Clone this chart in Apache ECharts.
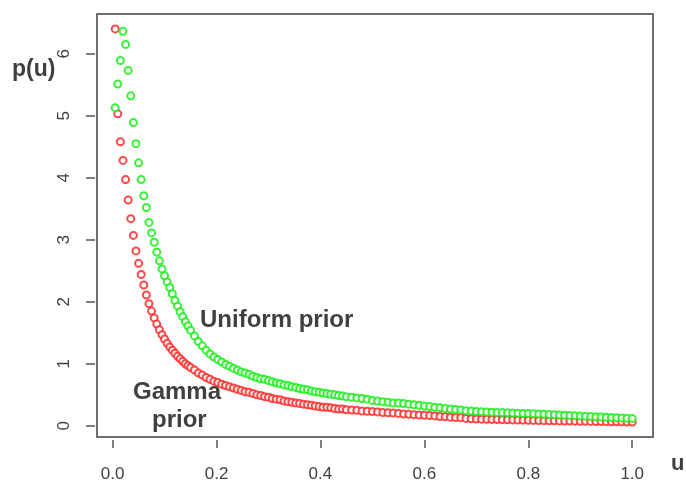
<!DOCTYPE html>
<html lang="en">
<head>
	<meta charset="UTF-8">
	<title>p(u)</title>
	<script type="text/javascript" src="https://cdn.jsdelivr.net/npm/echarts@6/dist/echarts.min.js"></script>
	<style>
		html, body { margin: 0; padding: 0; background: #fff; }
		#main { width: 686px; height: 487px; }
	</style>
</head>
<body>
	<div id="main"></div>
	<script type="text/javascript">
		// u grid (shared by both curves)
		var uValues = [
			0.005, 0.01, 0.015, 0.02, 0.025, 0.03, 0.035, 0.04, 0.045, 0.05,
			0.055, 0.06, 0.065, 0.07, 0.075, 0.08, 0.085, 0.09, 0.095, 0.1,
			0.105, 0.11, 0.115, 0.12, 0.125, 0.13, 0.135, 0.14, 0.145, 0.15,
			0.1575, 0.165, 0.1725, 0.18, 0.1875, 0.195, 0.2025, 0.21, 0.2175, 0.225,
			0.2325, 0.24, 0.2475, 0.255, 0.2625, 0.27, 0.2775, 0.285, 0.2925, 0.3,
			0.3075, 0.315, 0.3225, 0.33, 0.3375, 0.345, 0.3525, 0.36, 0.3675, 0.375,
			0.3825, 0.39, 0.3975, 0.405, 0.4125, 0.42, 0.4275, 0.435, 0.4425, 0.45,
			0.46, 0.47, 0.48, 0.49, 0.5, 0.51, 0.52, 0.53, 0.54, 0.55,
			0.56, 0.57, 0.58, 0.59, 0.6, 0.61, 0.62, 0.63, 0.64, 0.65,
			0.66, 0.67, 0.68, 0.69, 0.7, 0.71, 0.72, 0.73, 0.74, 0.75,
			0.76, 0.77, 0.78, 0.79, 0.8, 0.81, 0.82, 0.83, 0.84, 0.85,
			0.86, 0.87, 0.88, 0.89, 0.9, 0.91, 0.92, 0.93, 0.94, 0.95,
			0.96, 0.97, 0.98, 0.99, 1.0
		];

		// Gamma prior (red)
		var gammaPrior = [
			6.40, 5.03, 4.58, 4.28, 3.97, 3.64, 3.34, 3.07, 2.82, 2.62,
			2.44, 2.27, 2.11, 1.97, 1.85, 1.74, 1.64, 1.55, 1.47, 1.40,
			1.33, 1.27, 1.22, 1.17, 1.12, 1.08, 1.04, 1.00, 0.97, 0.94,
			0.90, 0.85, 0.82, 0.78, 0.75, 0.72, 0.70, 0.67, 0.65, 0.63,
			0.61, 0.59, 0.57, 0.55, 0.54, 0.52, 0.50, 0.49, 0.47, 0.46,
			0.44, 0.43, 0.42, 0.40, 0.39, 0.38, 0.37, 0.36, 0.35, 0.34,
			0.33, 0.32, 0.31, 0.30, 0.30, 0.29, 0.28, 0.27, 0.27, 0.26,
			0.255, 0.25, 0.24, 0.235, 0.23, 0.225, 0.215, 0.21, 0.205, 0.2,
			0.19, 0.185, 0.18, 0.175, 0.17, 0.165, 0.16, 0.15, 0.145, 0.14,
			0.135, 0.13, 0.12, 0.115, 0.11, 0.108, 0.106, 0.104, 0.102, 0.1,
			0.098, 0.096, 0.094, 0.092, 0.09, 0.088, 0.086, 0.084, 0.082, 0.08,
			0.079, 0.077, 0.076, 0.075, 0.073, 0.072, 0.071, 0.069, 0.068, 0.067,
			0.065, 0.064, 0.063, 0.061, 0.06
		];

		// Uniform prior (green)
		var uniformPrior = [
			5.13, 5.51, 5.89, 6.36, 6.15, 5.73, 5.32, 4.89, 4.55, 4.24,
			3.97, 3.71, 3.52, 3.28, 3.11, 2.96, 2.80, 2.66, 2.53, 2.42,
			2.32, 2.23, 2.13, 2.02, 1.93, 1.84, 1.76, 1.68, 1.61, 1.54,
			1.45, 1.36, 1.29, 1.22, 1.16, 1.11, 1.07, 1.03, 0.99, 0.96,
			0.93, 0.90, 0.87, 0.85, 0.83, 0.80, 0.78, 0.76, 0.75, 0.73,
			0.71, 0.69, 0.68, 0.66, 0.65, 0.63, 0.62, 0.60, 0.59, 0.58,
			0.56, 0.55, 0.54, 0.53, 0.52, 0.51, 0.50, 0.49, 0.48, 0.47,
			0.46, 0.45, 0.44, 0.43, 0.41, 0.4, 0.39, 0.38, 0.37, 0.37,
			0.36, 0.35, 0.34, 0.33, 0.32, 0.31, 0.3, 0.29, 0.28, 0.27,
			0.265, 0.255, 0.245, 0.24, 0.23, 0.227, 0.223, 0.22, 0.217, 0.213,
			0.21, 0.207, 0.203, 0.2, 0.197, 0.193, 0.19, 0.187, 0.183, 0.18,
			0.176, 0.172, 0.168, 0.164, 0.16, 0.156, 0.152, 0.148, 0.144, 0.14,
			0.136, 0.132, 0.128, 0.124, 0.12
		];

		var xTicks = [0, 0.2, 0.4, 0.6, 0.8, 1.0];
		var yTicks = [0, 1, 2, 3, 4, 5, 6];

		function pairs(ys) {
			var arr = [];
			for (var i = 0; i < uValues.length; i++) {
				arr.push([uValues[i], ys[i]]);
			}
			return arr;
		}

		var myChart = echarts.init(document.getElementById('main'));
		var textColor = '#404040';
		var option = {
			animation: false,
			backgroundColor: '#fff',
			textStyle: { fontFamily: 'Liberation Sans, Arial, sans-serif' },
			grid: {
				left: 97, top: 14, width: 556, height: 423,
				show: true, borderColor: '#6e6e6e', borderWidth: 2
			},
			xAxis: {
				type: 'value', min: -0.03, max: 1.04, offset: 3,
				splitLine: { show: false },
				axisLine: { show: false, onZero: false },
				axisTick: { show: true, length: 8, customValues: xTicks, lineStyle: { color: '#555', width: 1.5 } },
				axisLabel: {
					customValues: xTicks, margin: 26, fontSize: 17, color: textColor,
					formatter: function (v) { return v.toFixed(1); }
				}
			},
			yAxis: {
				type: 'value', min: -0.18, max: 6.64, offset: 2,
				splitLine: { show: false },
				axisLine: { show: false, onZero: false },
				axisTick: { show: true, length: 9, customValues: yTicks, lineStyle: { color: '#555', width: 1.5 } },
				axisLabel: {
					customValues: yTicks, margin: 22, fontSize: 17, color: textColor, rotate: 90
				}
			},
			graphic: [
				{ type: 'text', left: 12, top: 58, style: { text: 'p(u)', fontSize: 23, fontWeight: 'bold', fill: '#404040', fontFamily: 'Liberation Sans' } },
				{ type: 'text', left: 671, top: 453, style: { text: 'u', fontSize: 22, fontWeight: 'bold', fill: '#404040', fontFamily: 'Liberation Sans' } },
				{ type: 'text', left: 200, top: 308, style: { text: 'Uniform prior', fontSize: 24, fontWeight: 'bold', fill: '#404040', fontFamily: 'Liberation Sans' } },
				{ type: 'text', left: 133, top: 380, style: { text: 'Gamma', fontSize: 24, fontWeight: 'bold', fill: '#404040', fontFamily: 'Liberation Sans' } },
				{ type: 'text', left: 152, top: 408, style: { text: 'prior', fontSize: 24, fontWeight: 'bold', fill: '#404040', fontFamily: 'Liberation Sans' } }
			],
			series: [
				{
					name: 'Gamma prior', type: 'scatter', data: pairs(gammaPrior),
					symbol: 'emptyCircle', symbolSize: 7,
					itemStyle: { color: '#ff2a2a', borderColor: '#ff2a2a', borderWidth: 1.5, opacity: 0.85 }
				},
				{
					name: 'Uniform prior', type: 'scatter', data: pairs(uniformPrior),
					symbol: 'emptyCircle', symbolSize: 7,
					itemStyle: { color: '#18f018', borderColor: '#18f018', borderWidth: 1.5, opacity: 0.85 }
				}
			]
		};
		myChart.setOption(option);
	</script>
</body>
</html>
